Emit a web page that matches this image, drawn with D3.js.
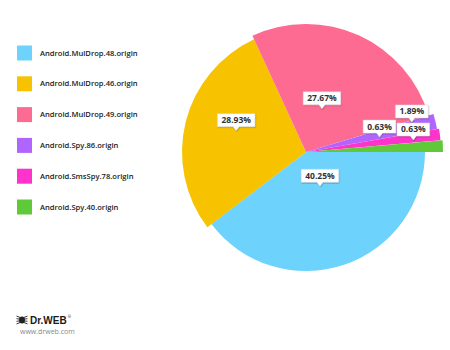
<!DOCTYPE html>
<html><head><meta charset="utf-8">
<script src="https://cdn.jsdelivr.net/npm/d3@7"></script>
<style>
html,body{margin:0;padding:0;background:#fff;}
svg{display:block;font-family:"Open Sans","DejaVu Sans",sans-serif;}
</style></head>
<body>
<svg id="c" width="450" height="350"></svg>
<script>
// ---- data ----
const categories = ["Android.MulDrop.48.origin","Android.MulDrop.46.origin","Android.MulDrop.49.origin","Android.Spy.86.origin","Android.SmsSpy.78.origin","Android.Spy.40.origin"];
const values = [40.25, 28.93, 27.67, 1.89, 0.63, 0.63];
const valueLabels = ["40.25%","28.93%","27.67%","1.89%","0.63%","0.63%"];
const colors = ["#6dd3fd","#f7c300","#fd6a92","#b066fe","#fe33cc","#5fc93a"];

// ---- layout / style ----
const cx = 306, cy = 152;
const sliceRadius = [119, 124, 128, 133, 135, 137];
const minShare = 1.4;                // minimum visual share for tiny slices
const labelDist = [37, 73, 46, 110, 75, 108];
const labelShiftDeg = [-3.5, 3, -4, -2.6, -4, -3.9];

const svg = d3.select("#c");

// legend
const legend = svg.append("g");
const rowY = d3.scalePoint().domain(categories).range([53, 207]);
categories.forEach((c,i)=>{
  const y = rowY(c);
  legend.append("rect").attr("x",17).attr("y",y-7.5).attr("width",15).attr("height",15)
    .attr("fill",colors[i]);
  legend.append("text").attr("x",40).attr("y",y).attr("dy","0.35em")
    .attr("font-size","7.6px").attr("font-weight",600).attr("fill","#222").text(c);
});

// pie
const pie = d3.pie().sort(null).value(d=>Math.max(d,minShare))
  .startAngle(Math.PI/2).endAngle(Math.PI/2+2*Math.PI);
const arcsData = pie(values);
const g = svg.append("g").attr("transform",`translate(${cx},${cy})`);
g.selectAll("path").data(arcsData).join("path")
  .attr("d",(d,i)=>d3.arc().innerRadius(0).outerRadius(sliceRadius[i])(d))
  .attr("fill",(d,i)=>colors[i]);

// labels
const defs = svg.append("defs");
const f = defs.append("filter").attr("id","sh").attr("x","-20%").attr("y","-20%").attr("width","140%").attr("height","160%");
f.append("feDropShadow").attr("dx",0.5).attr("dy",0.8).attr("stdDeviation",0.7).attr("flood-color","#000").attr("flood-opacity",0.35);

const lg = svg.append("g");
arcsData.forEach((d,i)=>{
  const mid = (d.startAngle+d.endAngle)/2 + labelShiftDeg[i]*Math.PI/180;
  const tx = cx + labelDist[i]*Math.sin(mid);
  const ty = cy - labelDist[i]*Math.cos(mid);
  const grp = lg.append("g");
  const t = grp.append("text").attr("font-size","8.5px").attr("font-weight",700).attr("fill","#333")
     .attr("text-anchor","middle").attr("x",tx).attr("y",ty-9).text(valueLabels[i]);
  const w = t.node().getComputedTextLength()+8, h = 13;
  const bx = tx - w/2, by = ty - 4 - h;
  grp.insert("path","text")
    .attr("d",`M${bx},${by}h${w}v${h}h${-(w/2-3)}l-3,4l-3,-4h${-(w/2-3)}z`)
    .attr("fill","#fff").attr("stroke","#d8d8d8").attr("stroke-width",0.5).attr("filter","url(#sh)");
  t.attr("y", by + h/2).attr("dy","0.35em");
});

// logo
const logo = svg.append("g");
const ic = logo.append("g").attr("transform","translate(22,320)").attr("fill","#222").attr("stroke","#222");
ic.append("ellipse").attr("rx",3).attr("ry",3.5).attr("stroke","none");
[-1,1].forEach(s=>{
  [-3,-1,1,3].forEach(k=>{
    ic.append("line").attr("x1",0).attr("y1",k*0.6).attr("x2",s*5.5).attr("y2",k*1.3).attr("stroke-width",0.9);
  });
});
const brand = logo.append("text").attr("x",30).attr("y",323.5).attr("font-size","10px").attr("font-weight",800)
  .attr("fill","#1a1a1a").attr("font-family","Arial, 'Liberation Sans', sans-serif").text("Dr.WEB");
const bw = brand.node().getComputedTextLength();
logo.append("text").attr("x",30+bw+1).attr("y",318).attr("font-size","4px").attr("fill","#1a1a1a").text("®");
logo.append("text").attr("x",20).attr("y",334).attr("font-size","7px").attr("fill","#888").text("www.drweb.com");
</script>
</body></html>
